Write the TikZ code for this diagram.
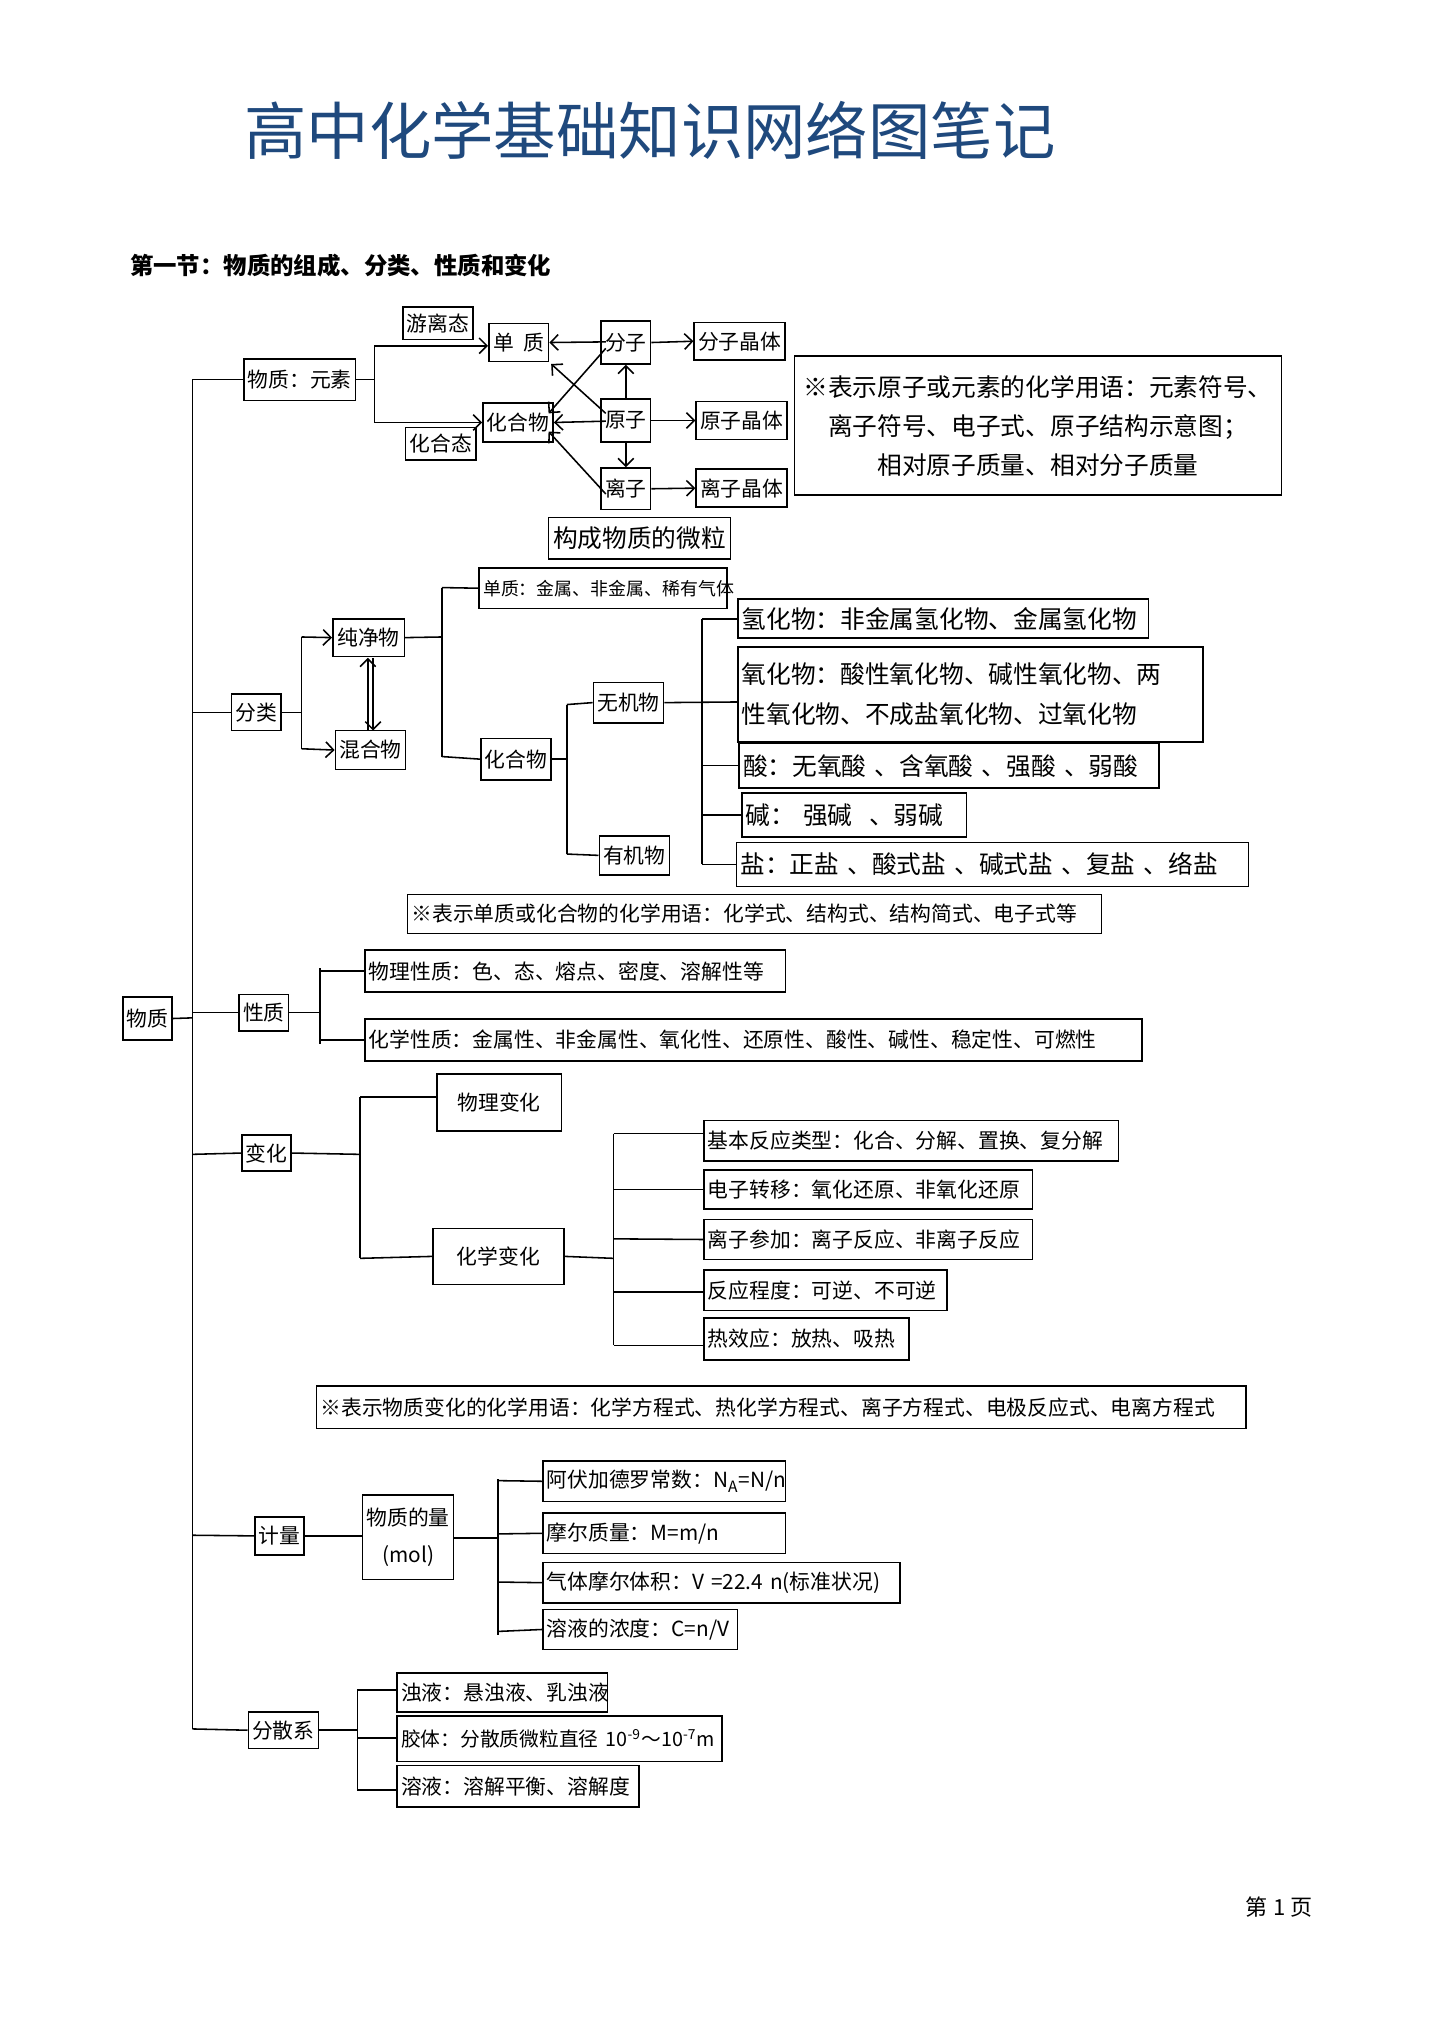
\documentclass[tikz,border=0pt]{standalone}
\usepackage{fontspec}
\setmainfont{Noto Sans CJK SC}
\usetikzlibrary{arrows.meta}
\definecolor{titleblue}{RGB}{31,73,125}
\tikzset{box/.style={draw,line width=0.6pt,inner sep=1.5pt,font=\fontsize{8}{10}\selectfont},
 big/.style={font=\fontsize{9.5}{12}\selectfont},
 ln/.style={line width=0.6pt},
 ar/.style={line width=0.6pt,-{Straight Barb[length=3pt]}}}
\newcommand\cbx[7][]{\node[box,#1,minimum width={(#5-#3)*0.5pt},minimum height={(#6-#4)*0.5pt}] (#2) at ({(#3+#5)/2},{(#4+#6)/2}) {#7};}
\newcommand\lbx[7][]{\node[box,#1,anchor=west,text width={(#5-#3)*0.5pt-3.6pt},align=left,minimum height={(#6-#4)*0.5pt}] (#2) at (#3,{(#4+#6)/2}) {#7};}
\begin{document}
\begin{tikzpicture}[x=0.5pt,y=-0.5pt]
\useasboundingbox (0,0) rectangle (1107.5,1567);
\node[text=titleblue,font=\fontsize{24}{28}\selectfont] (title) at (500,100) {高中化学基础知识网络图笔记};
\node[anchor=west,font=\bfseries\fontsize{9}{11}\selectfont] (sec) at (93,204) {第一节：物质的组成、分类、性质和变化};
% root
\cbx{wz}{95}{767}{132}{800}{物质}
\draw[ln] (148,292) -- (148,1330);
\draw[ln] (wz.east) -- (148,783);
% part 1
\cbx{ys}{193}{276}{268}{308}{物质：元素}
\draw[ln] (148,292) -- (ys.west);
\draw[ln] (ys.east) -- (288,292);
\draw[ln] (288,266) -- (288,325);
\cbx{yl}{315}{236}{359}{261}{游离态}
\cbx{hht}{317}{329}{361}{354}{化合态}
\cbx{dz}{376}{249}{422}{278}{单\ \ 质}
\cbx{hhw}{376}{310}{421}{340}{化合物}
\draw[ar] (288,266) -- (dz.west|-288,266);
\draw[ar] (288,325) -- (hhw.west);
\cbx{fz}{467}{247}{496}{280}{分子}
\cbx{yz}{467}{307}{496}{340}{原子}
\cbx{lz}{467}{360}{496}{392}{离子}
\cbx{fzj}{540}{248}{598}{277}{分子晶体}
\cbx{yzj}{541}{309}{600}{338}{原子晶体}
\cbx{lzj}{541}{361}{600}{390}{离子晶体}
\draw[ar] (fz.east) -- (fzj.west);
\draw[ar] (yz.east) -- (yzj.west);
\draw[ar] (lz.east) -- (lzj.west);
\draw[ar] (yz.north) -- (fz.south);
\draw[ar] (yz.south) -- (lz.north);
\draw[ar] (466,263) -- (dz.east);
\draw[ar] (466,268) -- (422,318);
\draw[ar] (466,318) -- (424,280);
\draw[ar] (466,324) -- (hhw.east);
\draw[ar] (466,380) -- (422,332);
\cbx[big]{wl}{422}{398}{562}{430}{构成物质的微粒}
\node[draw,line width=0.6pt,minimum width=178.5pt,minimum height=53.5pt,align=center,font=\fontsize{9.5}{15}\selectfont] (n1) at (798.5,327.5) {※表示原子或元素的化学用语：元素符号、\\离子符号、电子式、原子结构示意图；\\相对原子质量、相对分子质量};
% part 2
\cbx{fl}{181}{534}{213}{562}{分类}
\draw[ln] (148,548) -- (fl.west);
\draw[ln] (fl.east) -- (232,548);
\draw[ln] (232,490) -- (232,576);
\cbx{cjw}{256}{476}{311}{505}{纯净物}
\cbx{hhw2}{258}{562}{312}{592}{混合物}
\draw[ar] (232,490) -- (cjw.west);
\draw[ar] (232,576) -- (hhw2.west);
\draw[ar] (283,562) -- (283,506);
\draw[ar] (287,506) -- (287,562);
\lbx{dz2}{368}{437}{560}{468}{\fontsize{6.9}{9}\selectfont 单质：金属、非金属、稀有气体}
\cbx{hw3}{370}{568}{424}{600}{化合物}
\draw[ln] (cjw.east) -- (340,490);
\draw[ln] (340,452) -- (340,582);
\draw[ln] (340,452) -- (dz2.west);
\draw[ln] (340,582) -- (hw3.west);
\draw[ln] (hw3.east) -- (436,584);
\draw[ln] (436,542) -- (436,657);
\cbx{wj}{458}{525}{509}{556}{无机物}
\cbx{yj}{461}{643}{515}{673}{有机物}
\draw[ln] (436,542) -- (wj.west);
\draw[ln] (436,657) -- (yj.west);
\draw[ln] (wj.east) -- (567,540);
\draw[ln] (540,476) -- (540,665);
\lbx[big]{qh}{567}{461}{884}{491}{氢化物：非金属氢化物、金属氢化物}
\node[box,big,anchor=north west,text width=176pt,minimum height=36.5pt,align=left,font=\fontsize{9.5}{15.5}\selectfont] (yh) at (567,497) {氧化物：酸性氧化物、碱性氧化物、两\\ 性氧化物、不成盐氧化物、过氧化物};
\lbx[big]{suan}{568}{572}{892}{606}{酸：无氧酸\ 、含氧酸\ 、强酸\ 、弱酸}
\lbx[big]{jian}{570}{610}{744}{644}{碱：\ 强碱\ \ 、弱碱}
\lbx[big]{yan}{566}{648}{961}{682}{盐：正盐\ 、酸式盐\ 、碱式盐\ 、复盐\ 、络盐}
\draw[ln] (540,476) -- (qh.west);
\draw[ln] (540,589) -- (suan.west);
\draw[ln] (540,627) -- (jian.west);
\draw[ln] (540,665) -- (yan.west);
\lbx{n2}{313}{688}{848}{718}{※表示单质或化合物的化学用语：化学式、结构式、结构简式、电子式等}
% part 3
\cbx{xz}{187}{765}{219}{793}{性质}
\draw[ln] (148,779) -- (xz.west);
\draw[ln] (xz.east) -- (246,779);
\draw[ln] (246,745) -- (246,803);
\lbx{wlx}{280}{731}{605}{763}{物理性质：色、态、熔点、密度、溶解性等}
\lbx{hxx}{280}{784}{879}{816}{化学性质：金属性、非金属性、氧化性、还原性、酸性、碱性、稳定性、可燃性}
\draw[ln] (246,747) -- (wlx.west);
\draw[ln] (246,800) -- (hxx.west);
% part 4
\cbx{bh}{189}{873}{221}{901}{变化}
\draw[ln] (148,888) -- (bh.west);
\draw[ln] (bh.east) -- (277,888);
\draw[ln] (277,844) -- (277,968);
\cbx{wlb}{336}{826}{432}{870}{物理变化}
\cbx{hxb}{333}{945}{434}{988}{化学变化}
\draw[ln] (277,844) -- (336,844);
\draw[ln] (277,968) -- (hxb.west);
\draw[ln] (hxb.east) -- (472,968);
\draw[ln] (472,872) -- (472,1035);
\lbx{b1}{541}{862}{861}{893}{基本反应类型：化合、分解、置换、复分解}
\lbx{b2}{541}{900}{795}{930}{电子转移：氧化还原、非氧化还原}
\lbx{b3}{541}{938}{795}{969}{离子参加：离子反应、非离子反应}
\lbx{b4}{541}{977}{729}{1008}{反应程度：可逆、不可逆}
\lbx{b5}{541}{1014}{700}{1046}{热效应：放热、吸热}
\draw[ln] (472,872) -- (541,872);
\draw[ln] (472,915) -- (b2.west);
\draw[ln] (472,953) -- (b3.west);
\draw[ln] (472,994) -- (541,994);
\draw[ln] (472,1035) -- (541,1035);
\lbx{n3}{243}{1066}{959}{1099}{※表示物质变化的化学用语：化学方程式、热化学方程式、离子方程式、电极反应式、电离方程式}
% part 5
\cbx{jl}{199}{1167}{231}{1196}{计量}
\draw[ln] (148,1181) -- (jl.west);
\node[box,minimum width=35pt,minimum height=32.5pt,align=center,font=\fontsize{8}{14}\selectfont] (wzl) at (314,1182.5) {物质的量\\(mol)};
\draw[ln] (jl.east) -- (wzl.west|-jl.east);
\draw[ln] (349,1183) -- (383,1183);
\draw[ln] (383,1138) -- (383,1258);
\lbx{j1}{417}{1124}{605}{1155}{阿伏加德罗常数：\textit{N}$_{\rm A}$=\textit{N}/\textit{n}}
\lbx{j2}{417}{1164}{605}{1195}{摩尔质量：M=\textit{m}/\textit{n}}
\lbx{j3}{417}{1202}{693}{1233}{气体摩尔体积：V =22.4 \textit{n}(标准状况)}
\lbx{j4}{417}{1238}{568}{1269}{溶液的浓度：\textit{C}=n/V}
\draw[ln] (383,1139) -- (j1.west);
\draw[ln] (383,1180) -- (j2.west);
\draw[ln] (383,1217) -- (j3.west);
\draw[ln] (383,1255) -- (j4.west);
\cbx{fs}{196}{1317}{240}{1345}{分散系}
\draw[ln] (148,1330) -- (fs.west);
\draw[ln] (fs.east) -- (275,1331);
\draw[ln] (275,1300) -- (275,1377);
\lbx{f1}{305}{1287}{468}{1317}{浊液：悬浊液、乳浊液}
\lbx{f2}{305}{1320}{556}{1355}{\fontsize{7.6}{9}\selectfont 胶体：分散质微粒直径 10\textsuperscript{-9}～10\textsuperscript{-7}m}
\lbx{f3}{305}{1358}{492}{1390}{溶液：溶解平衡、溶解度}
\draw[ln] (275,1300) -- (305,1300);
\draw[ln] (275,1337) -- (305,1337);
\draw[ln] (275,1377) -- (305,1377);
\node[font=\fontsize{8.5}{10}\selectfont] (pg) at (984,1467) {第\ 1\ 页};
\end{tikzpicture}
\end{document}
